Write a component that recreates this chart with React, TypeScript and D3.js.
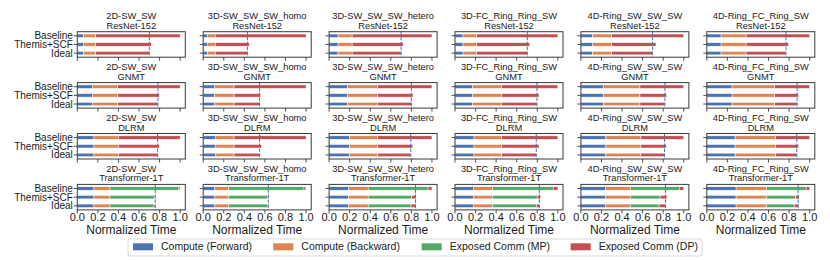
import React from "react";
import * as d3 from "d3";

const topologies = [
  "2D-SW_SW",
  "3D-SW_SW_SW_homo",
  "3D-SW_SW_SW_hetero",
  "3D-FC_Ring_Ring_SW",
  "4D-Ring_SW_SW_SW",
  "4D-Ring_FC_Ring_SW",
];
const workloads = ["ResNet-152", "GNMT", "DLRM", "Transformer-1T"];
const systems = ["Baseline", "Themis+SCF", "Ideal"];
const seriesNames = [
  "Compute (Forward)",
  "Compute (Backward)",
  "Exposed Comm (MP)",
  "Exposed Comm (DP)",
];
const colors = ["#4c72b0", "#dd8452", "#55a868", "#c44e52"];
const xTicks = [0, 0.2, 0.4, 0.6, 0.8, 1.0];

// [topology][system] -> [fwd, bwd, mp, dp]
const resnet152 = [
  [[0.058, 0.12, 0, 0.822], [0.058, 0.12, 0, 0.542], [0.058, 0.12, 0, 0.522]],
  [[0.039, 0.078, 0, 0.883], [0.039, 0.078, 0, 0.33], [0.039, 0.078, 0, 0.313]],
  [[0.087, 0.137, 0, 0.776], [0.087, 0.137, 0, 0.496], [0.087, 0.137, 0, 0.476]],
  [[0.078, 0.132, 0, 0.79], [0.078, 0.132, 0, 0.516], [0.078, 0.132, 0, 0.493]],
  [[0.113, 0.187, 0, 0.7], [0.113, 0.187, 0, 0.43], [0.113, 0.187, 0, 0.397]],
  [[0.139, 0.243, 0, 0.618], [0.139, 0.243, 0, 0.412], [0.139, 0.243, 0, 0.388]],
];
const gnmt = [
  [[0.146, 0.246, 0, 0.608], [0.146, 0.246, 0, 0.405], [0.146, 0.246, 0, 0.392]],
  [[0.113, 0.187, 0, 0.7], [0.113, 0.187, 0, 0.257], [0.113, 0.187, 0, 0.248]],
  [[0.178, 0.292, 0, 0.53], [0.178, 0.292, 0, 0.346], [0.178, 0.292, 0, 0.33]],
  [[0.172, 0.278, 0, 0.55], [0.172, 0.278, 0, 0.367], [0.172, 0.278, 0, 0.347]],
  [[0.217, 0.357, 0, 0.426], [0.217, 0.357, 0, 0.259], [0.217, 0.357, 0, 0.243]],
  [[0.246, 0.414, 0, 0.34], [0.246, 0.414, 0, 0.23], [0.246, 0.414, 0, 0.218]],
];
const dlrm = [
  [[0.162, 0.238, 0, 0.6], [0.162, 0.238, 0, 0.397], [0.162, 0.238, 0, 0.381]],
  [[0.123, 0.177, 0, 0.7], [0.123, 0.177, 0, 0.267], [0.123, 0.177, 0, 0.248]],
  [[0.198, 0.275, 0, 0.527], [0.198, 0.275, 0, 0.34], [0.198, 0.275, 0, 0.321]],
  [[0.185, 0.269, 0, 0.546], [0.185, 0.269, 0, 0.363], [0.185, 0.269, 0, 0.336]],
  [[0.243, 0.34, 0, 0.417], [0.243, 0.34, 0, 0.247], [0.243, 0.34, 0, 0.23]],
  [[0.275, 0.393, 0, 0.332], [0.275, 0.393, 0, 0.226], [0.275, 0.393, 0, 0.207]],
];
const transformer1T = [
  [[0.162, 0.156, 0.67, 0.012], [0.162, 0.156, 0.434, 0.009], [0.162, 0.156, 0.427, 0.013]],
  [[0.113, 0.133, 0.734, 0.018], [0.113, 0.133, 0.379, 0.01], [0.113, 0.133, 0.379, 0.008]],
  [[0.188, 0.192, 0.582, 0.038], [0.188, 0.192, 0.42, 0.045], [0.188, 0.192, 0.417, 0.043]],
  [[0.178, 0.185, 0.592, 0.045], [0.178, 0.185, 0.437, 0.033], [0.178, 0.185, 0.427, 0.03]],
  [[0.237, 0.243, 0.476, 0.044], [0.237, 0.243, 0.29, 0.066], [0.237, 0.243, 0.28, 0.063]],
  [[0.285, 0.295, 0.386, 0.034], [0.285, 0.295, 0.282, 0.035], [0.285, 0.295, 0.272, 0.036]],
];
const allData = [resnet152, gnmt, dlrm, transformer1T];

const FONT = "'Liberation Sans', Arial, sans-serif";
const TEXT = "#1a1a1a";
const panelLeft0 = 77.3;
const panelStepX = 125.9;
const panelW = 108;
const panelTop0 = 31.7;
const panelStepY = 50.9;
const panelH = 25.5;
const legendX = [133, 273.3, 421.7, 570.7];

const x = d3.scaleLinear().domain([0, 1.05]).range([0, panelW]);
const y = d3.scalePoint<string>().domain(systems).range([0, panelH]).padding(0.47);
const barH = 3.5;

function Panel({ row, col }: { row: number; col: number }) {
  const left = panelLeft0 + col * panelStepX;
  const top = panelTop0 + row * panelStepY;
  const values = allData[row][col];
  const idealTotal = d3.sum(values[2]);
  const lastRow = row === workloads.length - 1;
  return (
    <g transform={`translate(${left},${top})`}>
      <text x={panelW / 2} y={-12.5} textAnchor="middle" fontSize={9.3} fill={TEXT}>
        {topologies[col]}
      </text>
      <text x={panelW / 2} y={-3} textAnchor="middle" fontSize={9.3} fill={TEXT}>
        {workloads[row]}
      </text>
      {systems.map((s, si) => {
        const stack = d3.cumsum(values[si]);
        return (
          <g key={s}>
            {values[si].map((v, k) =>
              v > 0 ? (
                <rect
                  key={k}
                  x={x(stack[k] - v)}
                  y={(y(s) as number) - barH / 2}
                  width={x(v) - x(0)}
                  height={barH}
                  fill={colors[k]}
                  stroke="#fff"
                  strokeWidth={0.5}
                />
              ) : null
            )}
          </g>
        );
      })}
      <line
        x1={x(idealTotal)}
        x2={x(idealTotal)}
        y1={0}
        y2={panelH}
        stroke="#4c72b0"
        strokeWidth={1}
        strokeDasharray="3.5,1.5"
      />
      <rect x={0} y={0} width={panelW} height={panelH} fill="none" stroke="#3a3a3a" strokeWidth={1} />
      {xTicks.map((t) => (
        <g key={t} transform={`translate(${x(t)},${panelH})`}>
          <line y1={0} y2={3.5} stroke="#3a3a3a" strokeWidth={0.9} />
          {lastRow && (
            <text y={11.2} textAnchor="middle" fontSize={11} fill={TEXT}>
              {t.toFixed(1)}
            </text>
          )}
        </g>
      ))}
      {systems.map((s) => (
        <g key={s} transform={`translate(0,${y(s)})`}>
          <line x1={-3.5} x2={0} stroke="#3a3a3a" strokeWidth={0.9} />
          {col === 0 && (
            <text x={-4.5} dy="0.35em" textAnchor="end" fontSize={10} fill={TEXT}>
              {s}
            </text>
          )}
        </g>
      ))}
      {lastRow && (
        <text x={panelW / 2} y={panelH + 24} textAnchor="middle" fontSize={12} fill={TEXT}>
          Normalized Time
        </text>
      )}
    </g>
  );
}

export default function App() {
  return (
    <svg width={830} height={260} style={{ position: "absolute", left: 0, top: 0 }} fontFamily={FONT}>
      <rect width={830} height={260} fill="#fff" />
      {workloads.map((w, r) =>
        topologies.map((t, c) => <Panel key={`${w}-${t}`} row={r} col={c} />)
      )}
      <rect x={128} y={239} width={574} height={17} rx={2} fill="#fff" stroke="#d5d5d5" strokeWidth={0.9} />
      {seriesNames.map((n, i) => (
        <g key={n} transform={`translate(${legendX[i]},243.3)`}>
          <rect width={20} height={7} fill={colors[i]} />
          <text x={28} y={3.5} dy="0.35em" fontSize={10.5} fill={TEXT}>
            {n}
          </text>
        </g>
      ))}
    </svg>
  );
}
